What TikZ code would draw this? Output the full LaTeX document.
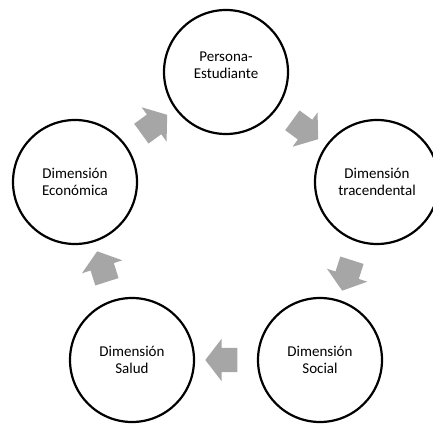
\documentclass[tikz,border=0pt]{standalone}
\usepackage{fontspec}
\setmainfont{Carlito}
\usetikzlibrary{shapes.arrows,positioning}
\definecolor{flechagris}{RGB}{166,166,166}

\begin{document}
\begin{tikzpicture}
[x=1pt,y=1pt,
 dimension/.style={circle,draw=black,line width=2.2pt,minimum size=124pt,align=center,font=\fontsize{15}{17}\selectfont},
 flecha/.style={single arrow,fill=flechagris,minimum height=32pt,inner xsep=0pt,inner ysep=12pt,
   single arrow head extend=9pt,single arrow tip angle=105,midway,sloped,allow upside down}]
\useasboundingbox (0,0) rectangle (433,423);

% cinco dimensiones alrededor del estudiante
\node[dimension,text depth=14pt] (persona) at (226,351) {Persona-\\Estudiante};
\node[dimension] (tracendental) at (377,241) {Dimensión\\tracendental};
\node[dimension] (social) at (320,63) {Dimensión\\Social};
\node[dimension] (salud) at (132,63) {Dimensión\\Salud};
\node[dimension] (economica) at (75,241) {Dimensión\\Económica};

% flechas del ciclo
\path (persona) -- node[flecha] {} (tracendental);
\path (tracendental) -- node[flecha] {} (social);
\path (social) -- node[flecha] {} (salud);
\path (salud) -- node[flecha] {} (economica);
\path (economica) -- node[flecha] {} (persona);
\end{tikzpicture}
\end{document}
